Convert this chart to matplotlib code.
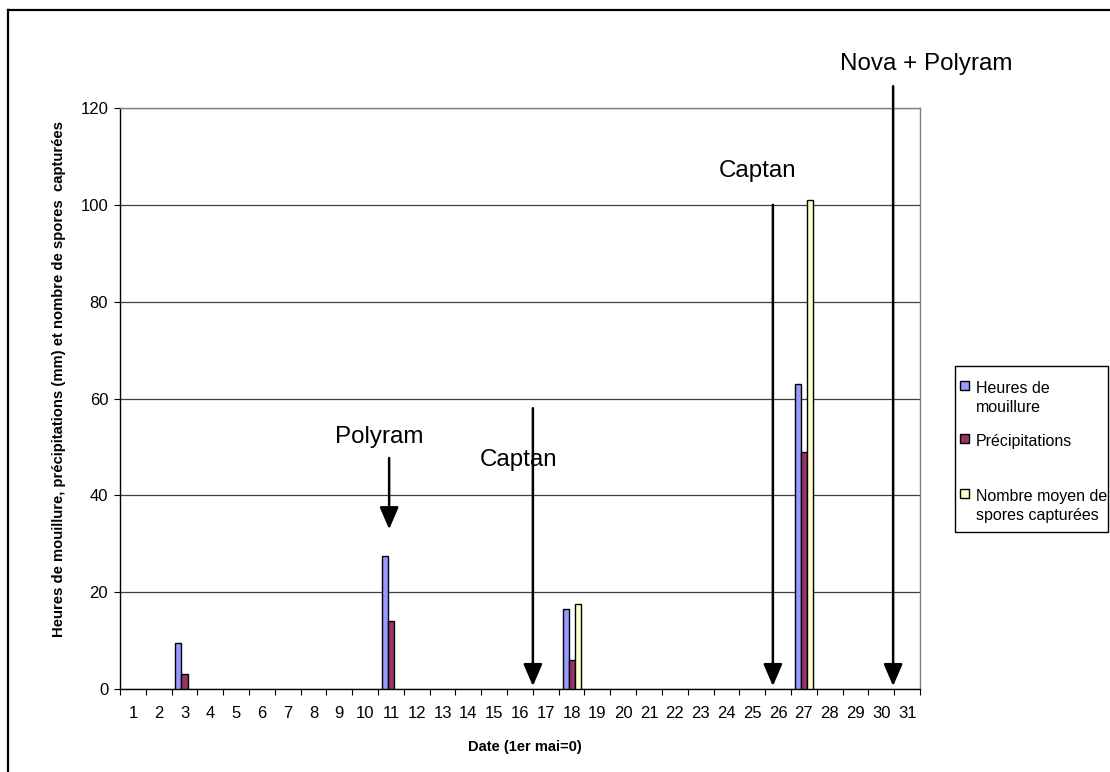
import matplotlib
matplotlib.use("Agg")
import matplotlib.pyplot as plt
from matplotlib.lines import Line2D
from matplotlib.patches import Rectangle

plt.rcParams['font.family'] = ['Liberation Sans', 'DejaVu Sans']

# Days of May (1er mai = 0)
days = list(range(1, 32))
day_labels = [str(d) for d in days]

# Series values per day (only non-zero days listed, others are 0)
heures_mouillure = {3: 9.5, 11: 27.5, 18: 16.5, 27: 63}
precipitations = {3: 3, 11: 14, 18: 6, 27: 49}
spores_capturees = {18: 17.5, 27: 101}

series_names = ["Heures de\nmouillure", "Précipitations",
                "Nombre moyen de\nspores capturées"]
series_colors = ["#9999FF", "#993366", "#FFFFCC"]

# Fungicide treatments: (label, day position, arrow start value, arrow tip value)
treatments = [
    ("Polyram", 10.93, 47.7, 33.0),
    ("Captan", 16.5, 58.0, 0.6),
    ("Captan", 25.8, 100.0, 0.6),
    ("Nova + Polyram", 30.46, 124.5, 0.6),
]
# label positions (day, value)
treatment_label_pos = [(10.55, 52.0), (15.95, 47.4), (25.2, 107.0), (31.76, 129.0)]

W, H = 1110, 772
fig = plt.figure(figsize=(W / 100, H / 100), dpi=100)
ax = fig.add_axes([0.1081, 0.1075, 0.8288 - 0.1081, 0.8601 - 0.1075])

width = 0.233
all_series = [heures_mouillure, precipitations, spores_capturees]
for i, (vals, name, col) in enumerate(zip(all_series, series_names, series_colors)):
    heights = [vals.get(d, 0) for d in days]
    xs = [d + (i - 1) * width for d in days]
    nz_x = [x for x, h in zip(xs, heights) if h > 0]
    nz_h = [h for h in heights if h > 0]
    ax.bar(nz_x, nz_h, width=width, color=col, edgecolor='black',
           linewidth=1.0, label=name, zorder=3)

ax.set_xlim(0.5, 31.5)
ax.set_ylim(0, 120)
ax.set_yticks(range(0, 121, 20))
ax.yaxis.grid(True, color='#404040', linewidth=0.9, zorder=0)
ax.set_axisbelow(True)

# category ticks between days, labels centred on days
ax.set_xticks([d + 0.5 for d in range(0, 32)])
ax.set_xticklabels([])
ax.set_xticks(days, minor=True)
ax.set_xticklabels(day_labels, minor=True)
ax.tick_params(axis='x', which='major', direction='out', length=4.5, width=0.8, color='black')
ax.tick_params(axis='x', which='minor', length=0, labelsize=12, pad=12)
ax.tick_params(axis='y', direction='out', length=4.5, width=0.8, labelsize=12, pad=4)

for s in ['top', 'right']:
    ax.spines[s].set_color('#808080')
    ax.spines[s].set_linewidth(1.0)
for s in ['left', 'bottom']:
    ax.spines[s].set_color('black')
    ax.spines[s].set_linewidth(1.0)

ax.set_xlabel("Date (1er mai=0)", fontsize=10.5, fontweight='bold')
ax.xaxis.set_label_coords(0.506, -0.088)
ax.set_ylabel("Heures de mouillure, précipitations (mm) et nombre de spores  capturées",
              fontsize=10.75, fontweight='bold')
ax.yaxis.set_label_coords(-0.068, 0.534)

for (label, x, y0, y1), (lx, ly) in zip(treatments, treatment_label_pos):
    ax.annotate("", xy=(x, y1), xytext=(x, y0), xycoords='data',
                annotation_clip=False,
                arrowprops=dict(arrowstyle='-|>,head_length=1.35,head_width=0.58',
                                color='black', lw=1.8, shrinkA=0, shrinkB=0),
                zorder=5)
    ax.text(lx, ly, label, fontsize=17.4, ha='center', va='center',
            clip_on=False, zorder=5)

# Legend: boxed key with a swatch beside the first line of each entry
def px(x, y):
    return x / W, 1 - y / H

fig.add_artist(Rectangle(px(955, 532), (1108 - 955) / W, (532 - 366) / H,
                         transform=fig.transFigure, facecolor='white',
                         edgecolor='black', linewidth=1.0, zorder=1))
entry_baselines = [393, 446, 501]
line_step = 19
for name, col, base in zip(series_names, series_colors, entry_baselines):
    fig.add_artist(Rectangle(px(960, base - 3), 9 / W, 9 / H,
                             transform=fig.transFigure, facecolor=col,
                             edgecolor='black', linewidth=1.0, zorder=2))
    for k, line in enumerate(name.split("\n")):
        fx, fy = px(976, base + k * line_step)
        fig.text(fx, fy, line, fontsize=11.5, ha='left', va='baseline', zorder=2)

# outer frame (left and top edges)
fig.add_artist(Line2D([7.5 / W, 7.5 / W], [0, 1 - 10 / H],
                      transform=fig.transFigure, color='black', lw=1.6))
fig.add_artist(Line2D([7.5 / W, 1], [1 - 10 / H, 1 - 10 / H],
                      transform=fig.transFigure, color='black', lw=1.6))

fig.savefig("out.png", dpi=100)
